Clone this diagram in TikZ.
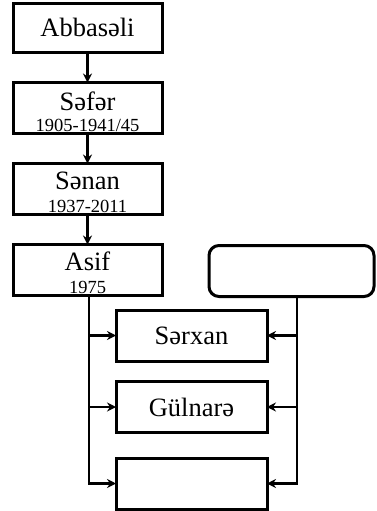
\documentclass[tikz,border=0pt]{standalone}
\usepackage{fontspec}
\setmainfont{Liberation Serif}
\usetikzlibrary{arrows.meta,calc}
\begin{document}
\begin{tikzpicture}[x=1pt,y=-1pt,
  box/.style={draw,line width=3pt,minimum width=149pt,minimum height=51pt,inner sep=0pt,outer sep=0pt,
    font=\fontsize{26.5}{28}\selectfont,text height=18pt,text depth=0pt},
  namelbl/.style={font=\fontsize{26.5}{28}\selectfont,inner sep=0pt,anchor=base},
  yrlbl/.style={font=\fontsize{18.5}{20}\selectfont,inner sep=0pt,anchor=base},
  conn/.style={line width=2.6pt,-{Stealth[length=9pt,width=9pt]}}]
\useasboundingbox[fill=white] (0,0) rectangle (376,511);
% main column
\node[box,minimum height=49.5pt] (A) at (87.5,28) {Abbasəli};
\node[box] (S) at (87.5,108) {};
\node[namelbl] (Sn) at (87.5,110) {Səfər};
\node[yrlbl] (Sy) at (87.5,131.5) {1905-1941/45};
\node[box] (N) at (87.5,189) {};
\node[namelbl] (Nn) at (87.5,189) {Sənan};
\node[yrlbl] (Ny) at (87.5,212) {1937-2011};
\node[box] (F) at (87.5,270) {};
\node[namelbl] (Fn) at (87.5,270.5) {Asif};
\node[yrlbl] (Fy) at (87.5,293.5) {1975};
% spouse box
\node[box,rounded corners=10pt,minimum width=165pt] (R) at (291.5,271) {};
% children
\node[box,minimum width=151pt] (K1) at (191.5,335.5) {Sərxan};
\node[box,minimum width=151pt] (K2) at (191.5,407) {Gülnarə};
\node[box,minimum width=151pt] (K3) at (191.5,483.5) {};
% connectors
\draw[conn] (A) -- (S);
\draw[conn] (S) -- (N);
\draw[conn] (N) -- (F);
\coordinate (bl) at ($(F.south)+(1.5,0)$);
\draw[conn] (bl) |- (K3.west);
\draw[conn] (bl |- K1.west) -- (K1.west);
\draw[conn] (bl |- K2.west) -- (K2.west);
\coordinate (br) at ($(R.south)+(5.5,0)$);
\draw[conn] (br) |- (K3.east);
\draw[conn] (br |- K1.east) -- (K1.east);
\draw[conn] (br |- K2.east) -- (K2.east);
\end{tikzpicture}
\end{document}
